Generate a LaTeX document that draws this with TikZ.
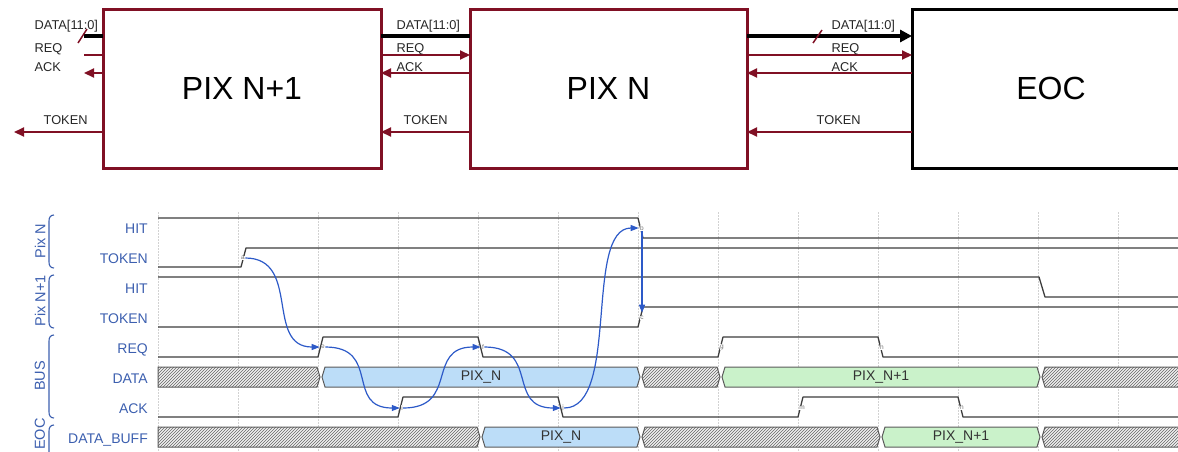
\documentclass[tikz,border=0pt]{standalone}
\usepackage{fontspec}
\setmainfont{Liberation Sans}
\usetikzlibrary{arrows.meta,patterns,calc}
\definecolor{dred}{RGB}{128,16,36}
\definecolor{lblue}{RGB}{60,95,175}
\definecolor{wavec}{RGB}{60,60,60}
\definecolor{edgeblue}{RGB}{45,90,200}
\definecolor{busblue}{RGB}{188,221,248}
\definecolor{busgreen}{RGB}{202,242,202}
\definecolor{segline}{RGB}{90,90,90}
\newcommand\busseg[4]{\path[#4] (#1,#3+10) -- (#1+3,#3) -- (#2-3,#3) -- (#2,#3+10) -- (#2-3,#3+20) -- (#1+3,#3+20) -- cycle;}
\newcommand\busfirst[3]{\path[#3] (158,#2) -- (#1-3,#2) -- (#1,#2+10) -- (#1-3,#2+20) -- (158,#2+20) -- cycle;}
\begin{document}
\begin{tikzpicture}[x=1pt,y=-1pt,
  box/.style={draw=#1, line width=3pt, minimum width=278pt, minimum height=159pt,
    inner sep=0pt, outer sep=0pt, font=\fontsize{32}{36}\selectfont},
  sig/.style={draw=dred, line width=2pt},
  sigarrow/.style={sig, -{Triangle[length=10pt,width=9pt]}},
  busline/.style={draw=black, line width=4.5pt},
  busarrow/.style={busline, -{Triangle[length=12pt,width=12pt]}},
  lbl/.style={font=\fontsize{12.8}{14}\selectfont, anchor=base west, inner sep=0pt, text=black!85},
  wlabel/.style={font=\fontsize{14}{16}\selectfont, text=lblue, anchor=base east, inner sep=0pt},
  grp/.style={font=\fontsize{14.5}{16}\selectfont, text=lblue, rotate=90, inner sep=0pt},
  brace/.style={draw=lblue, line width=1.1pt},
  wave/.style={draw=wavec, line width=1.3pt, line join=round},
  gridl/.style={draw=gray!35, line width=0.6pt, dash pattern=on 1.5pt off 1.5pt},
  hatch/.style={draw=segline, line width=1pt, preaction={fill=gray!12}, pattern=north east lines, pattern color=black!60},
  bluebus/.style={draw=segline, line width=1pt, fill=busblue},
  greenbus/.style={draw=segline, line width=1pt, fill=busgreen},
  edge/.style={draw=edgeblue, line width=1.2pt, -{Triangle[length=8pt,width=6pt]}, shorten >=1pt},
  spl/.style={out=0, in=180, out distance=56pt, in distance=56pt},
  ltr/.style={font=\fontsize{6.5}{6.5}\selectfont, text=gray!90!black, fill=white, inner sep=0.3pt},
  dlbl/.style={font=\fontsize{14}{16}\selectfont, text=black!80, inner sep=0pt}
]
\useasboundingbox (0,0) rectangle (1178,451);

% ---------------- top block diagram ----------------
\node[box=dred] (p1) at (242,88.5) {PIX N+1};
\node[box=dred, minimum width=277pt] (p0) at (608.5,88.5) {PIX N};
\node[box=black] (eoc) at (1051,88.5) {EOC};

\coordinate (dL) at (84,36);
\coordinate (rL) at (84,55);
\coordinate (aL) at (84,73);
\coordinate (tL) at (14,132);

% left of PIX N+1
\draw[busline] (dL) -- (dL -| p1.west);
\draw[sig] (rL) -- (rL -| p1.west);
\draw[sigarrow] (aL -| p1.west) -- (aL);
\draw[sigarrow] (tL -| p1.west) -- (tL);
\draw[dred, line width=1.5pt] (78,43) -- (87,29);
\node[lbl] (ld1) at (34.5,29.5) {DATA[11:0]};
\node[lbl] (lr1) at (34.5,52.5) {REQ};
\node[lbl] (la1) at (34.5,71) {ACK};
\node[lbl] (lt1) at (43.5,124) {TOKEN};

% between PIX N+1 and PIX N
\draw[busline] (p1.east |- dL) -- (p0.west |- dL);
\draw[sigarrow] (p1.east |- rL) -- (p0.west |- rL);
\draw[sigarrow] (p0.west |- aL) -- (p1.east |- aL);
\draw[sigarrow] (p0.west |- tL) -- (p1.east |- tL);
\node[lbl] (ld2) at (396.5,29.5) {DATA[11:0]};
\node[lbl] (lr2) at (396.5,52.5) {REQ};
\node[lbl] (la2) at (396.5,71) {ACK};
\node[lbl] (lt2) at (403.5,124) {TOKEN};

% between PIX N and EOC
\draw[busarrow] (p0.east |- dL) -- (eoc.west |- dL);
\draw[sigarrow] (p0.east |- rL) -- (eoc.west |- rL);
\draw[sigarrow] (eoc.west |- aL) -- (p0.east |- aL);
\draw[sigarrow] (eoc.west |- tL) -- (p0.east |- tL);
\draw[dred, line width=1.5pt] (813,43) -- (822,30);
\node[lbl] (ld3) at (831.5,29.5) {DATA[11:0]};
\node[lbl] (lr3) at (831.5,52.5) {REQ};
\node[lbl] (la3) at (831.5,71) {ACK};
\node[lbl] (lt3) at (816.5,124) {TOKEN};

% ---------------- timing diagram ----------------
\foreach \k in {0,...,12} \draw[gridl] (158+80*\k,212) -- (158+80*\k,451);

% signal names
\node[wlabel] (sHit) at (148,233.5) {HIT};
\node[wlabel] (sTok) at (148,263.5) {TOKEN};
\node[wlabel] (sHit1) at (148,293.5) {HIT};
\node[wlabel] (sTok1) at (148,323.5) {TOKEN};
\node[wlabel] (sReq) at (148,353.5) {REQ};
\node[wlabel] (sData) at (148,383.5) {DATA};
\node[wlabel] (sAck) at (148,413.5) {ACK};
\node[wlabel] (sBuf) at (148,443.5) {DATA\_BUFF};

% groups
\node[grp] (gPixN) at (40,241) {Pix N};
\node[grp] (gPixN1) at (40,301) {Pix N+1};
\node[grp] (gBus) at (40,376) {BUS};
\node[grp] (gEoc) at (40,434) {EOC};
\draw[brace] (54,215) .. controls (50.5,215) and (49,217.5) .. (49,221) -- (49,262) .. controls (49,265.5) and (50.5,268) .. (54,268);
\draw[brace] (54,275) .. controls (50.5,275) and (49,277.5) .. (49,281) -- (49,322) .. controls (49,325.5) and (50.5,328) .. (54,328);
\draw[brace] (54,335) .. controls (50.5,335) and (49,337.5) .. (49,341) -- (49,412) .. controls (49,415.5) and (50.5,418) .. (54,418);
\draw[brace] (54,425) .. controls (50.5,425) and (49,427.5) .. (49,431) -- (49,470);

% digital waves
\draw[wave] (158,218) -- (638,218) -- (643,238) -- (1185,238);
\draw[wave] (158,267) -- (241,267) -- (246,248) -- (1185,248);
\draw[wave] (158,277) -- (1039,277) -- (1045,297) -- (1185,297);
\draw[wave] (158,327) -- (638,327) -- (643,307) -- (1185,307);
\draw[wave] (158,357) -- (318,357) -- (323,337) -- (478,337) -- (483,357) -- (718,357) -- (723,337) -- (878,337) -- (883,357) -- (1185,357);
\draw[wave] (158,417) -- (398,417) -- (403,397) -- (558,397) -- (563,417) -- (798,417) -- (803,397) -- (958,397) -- (963,417) -- (1185,417);

% buses
\busfirst{320}{367}{hatch}
\busseg{322}{640}{367}{bluebus}
\busseg{642}{720}{367}{hatch}
\busseg{722}{1040}{367}{greenbus}
\busseg{1042}{1190}{367}{hatch}
\node[dlbl] (dA) at (481,377) {PIX\_N};
\node[dlbl] (dB) at (881,377) {PIX\_N+1};

\busfirst{480}{427}{hatch}
\busseg{482}{640}{427}{bluebus}
\busseg{642}{880}{427}{hatch}
\busseg{882}{1040}{427}{greenbus}
\busseg{1042}{1190}{427}{hatch}
\node[dlbl] (bA) at (561,437) {PIX\_N};
\node[dlbl] (bB) at (961,437) {PIX\_N+1};

% event nodes
\node[ltr] (a) at (243,258) {a};
\node[ltr] (b) at (642,228) {b};
\node[ltr] (c) at (642,318) {c};
\node[ltr] (e) at (323,347) {e};
\node[ltr] (f) at (483,347) {f};
\node[ltr] (g) at (722,347) {g};
\node[ltr] (h) at (882,347) {h};
\node[ltr] (i) at (402,408) {i};
\node[ltr] (j) at (563,408) {j};
\node[ltr] (m) at (802,408) {m};
\node[ltr] (n) at (962,408) {n};

% causality edges
\draw[edge] (a) to[spl] (e);
\draw[edge] (e) to[spl] (i);
\draw[edge] (i) to[spl] (f);
\draw[edge] (f) to[spl] (j);
\draw[edge] (j) to[spl] (b);
\draw[edge, shorten >=3pt] (b) -- (c);
\end{tikzpicture}
\end{document}
